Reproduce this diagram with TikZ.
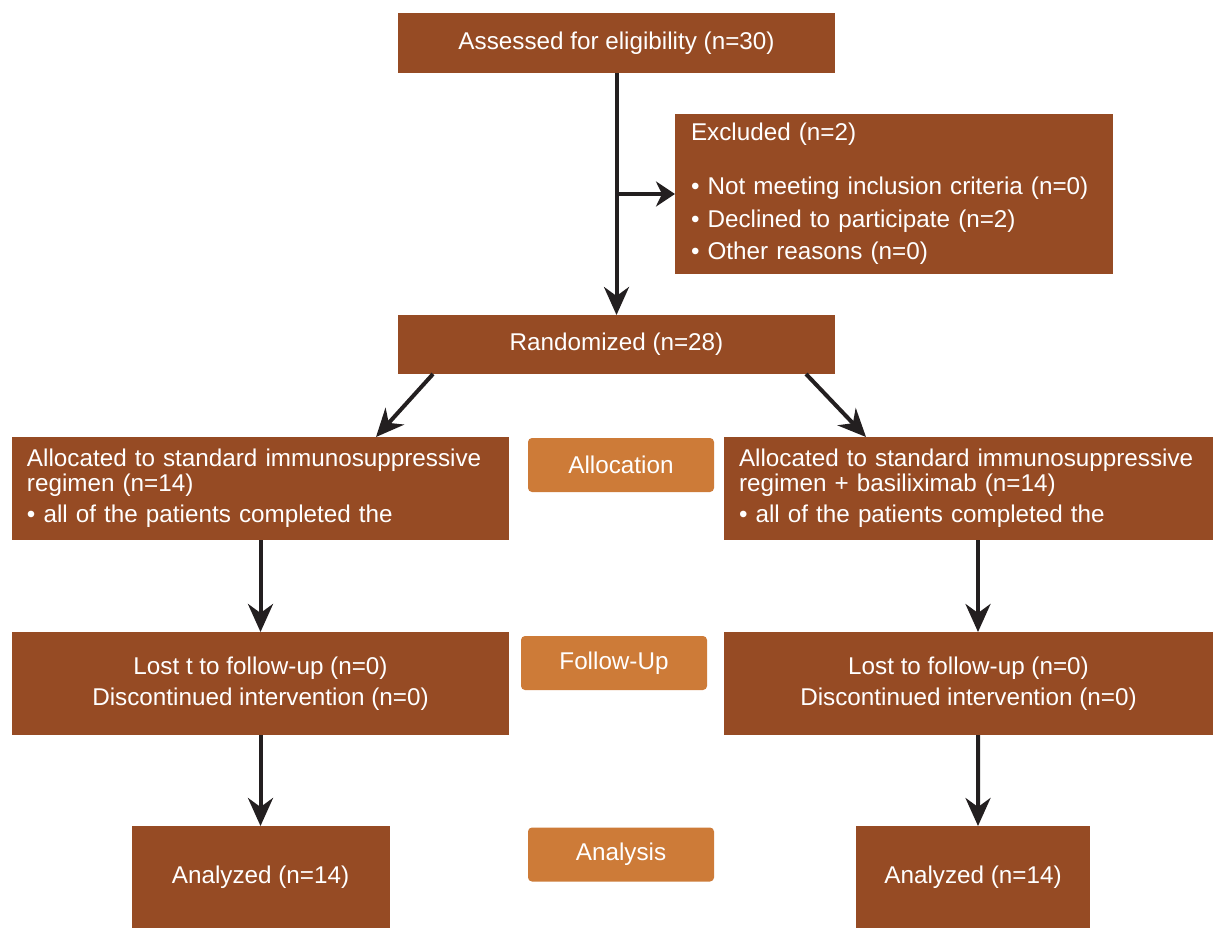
\documentclass[tikz,border=0pt]{standalone}
\usepackage{fontspec}
\setmainfont{Liberation Sans}
\usetikzlibrary{arrows.meta}
\definecolor{boxbrown}{HTML}{964B24}
\definecolor{stageorange}{HTML}{CD7B38}
\definecolor{arrowdark}{HTML}{231F20}
\begin{document}
\begin{tikzpicture}[x=0.2mm, y=-0.2mm,
    box/.style={fill=boxbrown, text=white, inner sep=0pt, outer sep=0pt, font=\fontsize{13.8}{17.8}\selectfont},
    stage/.style={fill=stageorange, text=white, rounded corners=0.8mm, inner sep=0pt, outer sep=0pt,
        minimum width=37.2mm, minimum height=10.8mm, font=\fontsize{13.8}{17.8}\selectfont},
    arr/.style={draw=arrowdark, line width=0.8mm, -{Stealth[length=5.6mm, width=5mm, inset=1.8mm]}},
    arrshort/.style={draw=arrowdark, line width=0.8mm, -{Stealth[length=3.8mm, width=5mm, inset=1.2mm]}}]
    \useasboundingbox (0,0) rectangle (1213,928);
    % Enrollment
    \node[box, minimum width=87.4mm, minimum height=12mm] (assess) at (616.5,43) {Assessed for eligibility (n=30)};
    \node[box, inner xsep=3.2mm, text width=81.2mm, minimum height=32mm, align=left,
        font=\fontsize{13.8}{18.6}\selectfont] (excl) at (894,194)
        {Excluded (n=2)\\[4.2mm]
         • Not meeting inclusion criteria (n=0)\\
         • Declined to participate (n=2)\\
         • Other reasons (n=0)};
    \node[box, minimum width=87.4mm, minimum height=11.8mm] (rand) at (616.5,344.5) {Randomized (n=28)};
    % Allocation
    \node[box, inner xsep=3mm, text width=93.4mm, minimum height=20.6mm, align=left] (allocL) at (260.5,488.5)
        {Allocated to standard immunosuppressive\\[-1.4mm]
         regimen (n=14)\\
         • all of the patients completed the};
    \node[stage] (allocS) at (621,465) {Allocation};
    \node[box, inner xsep=3mm, text width=91.8mm, minimum height=20.6mm, align=left] (allocR) at (968.5,488.5)
        {Allocated to standard immunosuppressive\\[-1.4mm]
         regimen + basiliximab (n=14)\\
         • all of the patients completed the};
    % Follow-up
    \node[box, minimum width=99.4mm, minimum height=20.6mm, align=center] (fupL) at (260.5,683.5)
        {Lost t to follow-up (n=0)\\ Discontinued intervention (n=0)};
    \node[stage] (fupS) at (614,663) {Follow-Up};
    \node[box, minimum width=97.8mm, minimum height=20.6mm, align=center] (fupR) at (968.5,683.5)
        {Lost to follow-up (n=0)\\ Discontinued intervention (n=0)};
    % Analysis
    \node[box, minimum width=51.6mm, minimum height=20.4mm] (anaL) at (260.5,877) {Analyzed (n=14)};
    \node[stage] (anaS) at (621,854.5) {Analysis};
    \node[box, minimum width=46.8mm, minimum height=20.4mm] (anaR) at (973,877) {Analyzed (n=14)};
    % Arrows
    \coordinate (split) at (assess.south |- excl.west);
    \draw[arr] (assess.south) -- (rand.north);
    \draw[arrshort] (split) -- (excl.west);
    \draw[arr] ([xshift=-36.7mm]rand.south) -- ([xshift=23.1mm]allocL.north);
    \draw[arr] ([xshift=37.9mm]rand.south) -- ([xshift=-20.5mm]allocR.north);
    \draw[arr] (allocL.south) -- (fupL.north);
    \draw[arr] ([xshift=1.9mm]allocR.south) -- ([xshift=1.9mm]fupR.north);
    \draw[arr] (fupL.south) -- (anaL.north);
    \draw[arr] ([xshift=1.9mm]fupR.south) -- ([xshift=1mm]anaR.north);
\end{tikzpicture}
\end{document}
